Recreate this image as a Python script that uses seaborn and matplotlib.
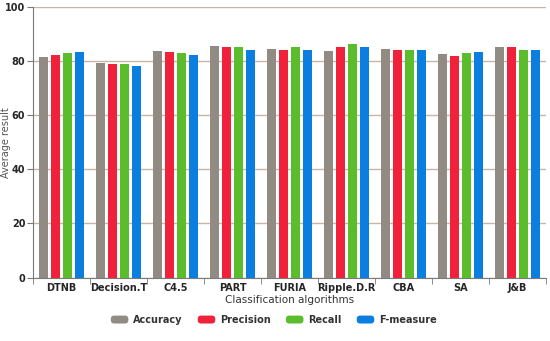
import matplotlib
matplotlib.use("Agg")
import matplotlib.pyplot as plt
from matplotlib.legend_handler import HandlerPatch
from matplotlib.patches import FancyBboxPatch, Patch
import seaborn as sns
import pandas as pd

algorithms = ["DTNB", "Decision.T", "C4.5", "PART", "FURIA", "Ripple.D.R", "CBA", "SA", "J&B"]
accuracy = [81.5, 79.4, 83.7, 85.7, 84.6, 83.7, 84.6, 82.5, 85.1]
precision = [82.1, 79.0, 83.2, 85.1, 84.1, 85.1, 84.1, 82.0, 85.1]
recall = [83.1, 79.0, 83.1, 85.1, 85.1, 86.2, 84.1, 83.1, 84.1]
f_measure = [83.2, 78.0, 82.1, 84.1, 84.1, 85.1, 84.1, 83.2, 84.1]
metrics = ["Accuracy", "Precision", "Recall", "F-measure"]
colors = ["#928b83", "#f0213a", "#5bbd2b", "#0a7fe0"]

# tabela w formacie długim dla seaborn
df = pd.DataFrame({"Accuracy": accuracy, "Precision": precision,
                   "Recall": recall, "F-measure": f_measure}, index=algorithms)
df = df.reset_index().melt(id_vars="index", var_name="metric", value_name="value")
df = df.rename(columns={"index": "algorithm"})

sns.set_style("white")
plt.rcParams["font.family"] = ["DejaVu Sans"]

fig = plt.figure(figsize=(5.5, 3.41), dpi=100)
ax = fig.add_axes([0.06, 0.186, 0.933, 0.794])

sns.barplot(data=df, x="algorithm", y="value", hue="metric", order=algorithms,
            hue_order=metrics, palette=colors, saturation=1, width=0.84, gap=0.25,
            edgecolor="none", ax=ax, legend=False, zorder=3)

ax.set_ylim(0, 100)
ax.set_xlim(-0.5, len(algorithms) - 0.5)
ax.set_yticks(range(0, 101, 20))
ax.grid(axis="y", color="#c9b5a6", linewidth=1, zorder=0)
ax.set_axisbelow(True)

for side in ["top", "right"]:
    ax.spines[side].set_visible(False)
ax.spines["left"].set_color("#7a7a7a")
ax.spines["bottom"].set_color("#7a7a7a")

# znaczniki na granicach kategorii
ax.set_xticks([i - 0.5 for i in range(len(algorithms) + 1)], minor=True)
ax.tick_params(axis="x", which="minor", length=4, color="#7a7a7a", bottom=True)
ax.tick_params(axis="x", which="major", length=0, pad=4)
ax.tick_params(axis="y", length=4, color="#7a7a7a", left=True, pad=1.5)
for lab in ax.get_xticklabels() + ax.get_yticklabels():
    lab.set_fontweight("bold")
    lab.set_fontsize(7)

ax.set_xlabel("Classification algorithms", fontsize=7.5, color="#333333", labelpad=1)
ax.set_ylabel("Average result", fontsize=7, color="#555555")
ax.yaxis.set_label_coords(-0.042, 0.5)


class RoundHandler(HandlerPatch):
    def create_artists(self, legend, orig_handle, xdescent, ydescent, width, height, fontsize, trans):
        p = FancyBboxPatch((-xdescent + 0.5, -ydescent + 0.5), width - 1, height - 1,
                           boxstyle="round,pad=0,rounding_size=2.5",
                           facecolor=orig_handle.get_facecolor(), edgecolor="none",
                           transform=trans)
        return [p]


handles = [Patch(facecolor=c, label=m) for c, m in zip(colors, metrics)]
leg = fig.legend(handles=handles, loc="center", bbox_to_anchor=(0.497, 0.062), ncol=4,
                 frameon=False, handler_map={Patch: RoundHandler()},
                 handlelength=1.95, handleheight=1.1, columnspacing=1.5, handletextpad=0.4,
                 prop={"size": 7, "weight": "bold"})
for t in leg.get_texts():
    t.set_color("#333333")

fig.savefig("out.png", dpi=100)
